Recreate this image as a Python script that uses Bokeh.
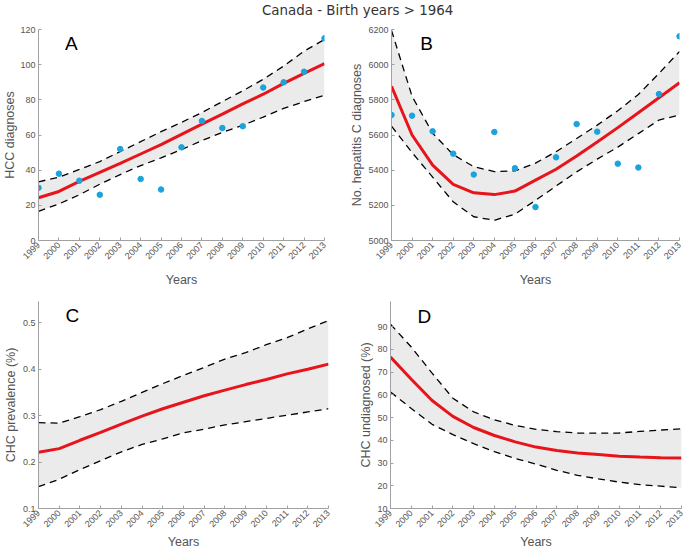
import math
from bokeh.plotting import figure
from bokeh.models import FixedTicker, Label, Div, Range1d
from bokeh.layouts import column, row
from bokeh.embed import file_html
from bokeh.resources import INLINE

years = list(range(1999, 2014))

# Panel A - HCC diagnoses
hcc_obs = [30, 38, 34, 26, 52, 35, 29, 53, 68, 64, 65, 87, 90, 96, 115]
hcc_fit = [24.3, 27.9, 33.6, 38.7, 43.8, 49.2, 54.5, 60.4, 66.2, 71.9, 77.7, 83.2, 89.4, 95.1, 100.6]
hcc_hi = [33.4, 36, 40.4, 44.9, 50.6, 56.2, 61.9, 67.2, 72.8, 79, 85.1, 91.7, 99.2, 107.7, 114.3]
hcc_lo = [16.6, 20.8, 26, 32, 37.5, 42.6, 47, 51.7, 56.8, 61.5, 65.5, 70.2, 75.1, 79, 82.6]

# Panel B - hepatitis C diagnoses
hcv_obs = [5714, 5710, 5621, 5494, 5375, 5617, 5411, 5190, 5473, 5662, 5619, 5437, 5415, 5833, 6161]
hcv_fit = [5877, 5600, 5429, 5319, 5271, 5261, 5281, 5343, 5405, 5480, 5560, 5642, 5727, 5812, 5897]
hcv_hi = [6195, 5820, 5610, 5488, 5420, 5392, 5396, 5440, 5505, 5580, 5656, 5738, 5830, 5950, 6075]
hcv_lo = [5650, 5500, 5360, 5220, 5135, 5115, 5150, 5228, 5310, 5390, 5463, 5531, 5608, 5685, 5714]

# Panel C - CHC prevalence (%)
prev_fit = [0.221, 0.229, 0.247, 0.264, 0.282, 0.299, 0.315, 0.329, 0.343, 0.355, 0.367, 0.378, 0.390, 0.400, 0.411]
prev_hi = [0.285, 0.284, 0.298, 0.313, 0.331, 0.350, 0.369, 0.387, 0.404, 0.422, 0.436, 0.453, 0.468, 0.487, 0.505]
prev_lo = [0.147, 0.163, 0.184, 0.203, 0.222, 0.238, 0.250, 0.263, 0.271, 0.280, 0.287, 0.294, 0.301, 0.308, 0.315]

# Panel D - CHC undiagnosed (%)
und_fit = [76.6, 66.8, 57.5, 50.5, 45.6, 42.1, 39.3, 37.0, 35.5, 34.4, 33.7, 33.0, 32.6, 32.3, 32.2]
und_hi = [91, 81, 69.5, 58.5, 52.5, 49, 46.5, 44.8, 43.8, 43.2, 43.1, 43.2, 43.9, 44.5, 45]
und_lo = [61.2, 54, 47, 42.5, 38.5, 35, 32, 29.5, 26.8, 24.6, 23, 21.6, 20.5, 19.8, 19.1]

yticks_a = [0, 20, 40, 60, 80, 100, 120]
yticks_b = [5000, 5200, 5400, 5600, 5800, 6000, 6200]
yticks_c = [0.1, 0.2, 0.3, 0.4, 0.5]
yticks_d = [10, 20, 30, 40, 50, 60, 70, 80, 90]

AX = "#a0a0a0"
TXT = "#555555"
FONT = "Liberation Sans"


def make(width, height, yr, yticks, ylabel, lb, rb, tb, bb, ystand, xstand):
    p = figure(width=width, height=height, x_range=Range1d(1999, 2013),
               y_range=Range1d(*yr), output_backend="svg", toolbar_location=None,
               min_border_left=lb, min_border_right=rb, min_border_top=tb,
               min_border_bottom=bb)
    p.outline_line_color = None
    p.grid.visible = False
    for ax in (p.xaxis, p.yaxis):
        ax.major_tick_in = 3
        ax.major_tick_out = 0
        ax.minor_tick_line_color = None
        ax.axis_line_color = AX
        ax.major_tick_line_color = AX
        ax.major_label_text_font = FONT
        ax.major_label_text_font_size = "9px"
        ax.major_label_text_color = TXT
        ax.axis_label_text_font = FONT
        ax.axis_label_text_font_size = "12.5px"
        ax.axis_label_text_font_style = "normal"
        ax.axis_label_text_color = TXT
    p.xaxis.ticker = FixedTicker(ticks=years)
    p.xaxis.major_label_orientation = math.pi / 4
    p.xaxis.major_label_standoff = 3
    p.xaxis.axis_label = "Years"
    p.xaxis.axis_label_standoff = xstand
    p.yaxis.ticker = FixedTicker(ticks=yticks)
    p.yaxis.major_label_standoff = 3
    p.yaxis.axis_label = ylabel
    p.yaxis.axis_label_standoff = ystand
    return p


def draw(p, lo, hi, fit, obs=None):
    p.varea(x=years, y1=lo, y2=hi, fill_color="#ebebeb")
    p.line(years, hi, line_color="black", line_width=1.3, line_dash="7 5")
    p.line(years, lo, line_color="black", line_width=1.3, line_dash="7 5")
    p.line(years, fit, line_color="#e8141b", line_width=3)
    if obs is not None:
        p.scatter(years, obs, size=5.5, fill_color="#1aa3dc", line_color="#1aa3dc")


def letter(p, x, y, t):
    p.add_layout(Label(x=x, y=y, text=t, text_font=FONT, text_font_size="19px",
                       text_color="black", text_baseline="alphabetic", level="overlay"))


pA = make(342, 267, (0, 120), yticks_a, "HCC diagnoses", 28, 18, 7, 48, 0, 8)
draw(pA, hcc_lo, hcc_hi, hcc_fit, hcc_obs)
letter(pA, 2000.3, 112, "A")

pB = make(342, 267, (5000, 6200), yticks_b, "No. hepatitis C diagnoses", 49, 5, 7, 48, 1, 8)
draw(pB, hcv_lo, hcv_hi, hcv_fit, hcv_obs)
letter(pB, 2000.4, 6120, "B")

pC = make(342, 262, (0.1, 0.546), yticks_c, "CHC prevalence (%)", 28, 14, 12, 42, 2, 2)
draw(pC, prev_lo, prev_hi, prev_fit)
letter(pC, 2000.3, 0.516, "C")

pD = make(342, 262, (10, 101), yticks_d, "CHC undiagnosed (%)", 48, 3, 12, 42, 1, 2)
draw(pD, und_lo, und_hi, und_fit)
letter(pD, 2000.3, 94.6, "D")

title = Div(text="Canada - Birth years &gt; 1964", width=684, height=12,
            styles={"font-family": "DejaVu Sans", "font-size": "13.4px", "color": "#333333",
                    "text-indent": "257px", "line-height": "12px", "white-space": "nowrap"})

layout = column(title, row(pA, pB), row(pC, pD))

open("out.html", "w").write(file_html(layout, INLINE))
